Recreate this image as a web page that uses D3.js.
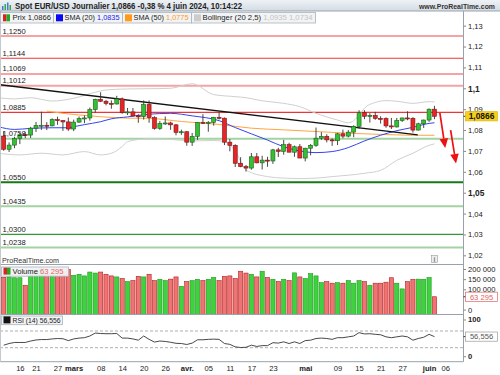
<!DOCTYPE html>
<html>
<head>
<meta charset="utf-8">
<script src="https://cdn.jsdelivr.net/npm/d3@7/dist/d3.min.js"></script>
<style>
html,body{margin:0;padding:0;background:#fff;}
svg{display:block;font-family:"Liberation Sans",Arial,sans-serif;}
</style>
</head>
<body>
<svg id="chart" width="500" height="375"></svg>
<script>
// ================= DATA =================
const dates = ["02-13","02-14","02-15","02-16","02-19","02-20","02-21","02-22","02-23","02-26","02-27","02-28","02-29",
"03-01","03-04","03-05","03-06","03-07","03-08","03-11","03-12","03-13","03-14","03-15","03-18","03-19","03-20","03-21","03-22","03-25","03-26","03-27","03-28","03-29",
"04-01","04-02","04-03","04-04","04-05","04-08","04-09","04-10","04-11","04-12","04-15","04-16","04-17","04-18","04-19","04-22","04-23","04-24","04-25","04-26","04-29","04-30",
"05-01","05-02","05-03","05-06","05-07","05-08","05-09","05-10","05-13","05-14","05-15","05-16","05-17","05-20","05-21","05-22","05-23","05-24","05-27","05-28","05-29","05-30","05-31",
"06-03","06-04"];

const open = [1.0771,1.0708,1.0728,1.0760,1.0778,1.0776,1.0809,1.0821,1.0823,1.0820,1.0850,1.0845,1.0839,
1.0805,1.0838,1.0855,1.0858,1.0898,1.0947,1.0938,1.0928,1.0925,1.0949,1.0883,1.0887,1.0868,1.0864,1.0922,1.0860,1.0808,1.0830,1.0834,1.0825,1.0789,
1.0792,1.0742,1.0770,1.0837,1.0835,1.0837,1.0861,1.0857,1.0742,1.0727,1.0641,1.0625,1.0618,1.0672,1.0643,1.0656,1.0652,1.0705,1.0698,1.0730,1.0694,1.0720,
1.0666,1.0713,1.0727,1.0761,1.0770,1.0753,1.0749,1.0782,1.0771,1.0790,1.0818,1.0883,1.0866,1.0870,1.0856,1.0855,1.0820,1.0815,1.0846,1.0858,1.0856,1.0800,1.0830,
1.0848,1.0900];

const close = [1.0708,1.0728,1.0760,1.0777,1.0776,1.0809,1.0821,1.0823,1.0820,1.0850,1.0845,1.0839,1.0805,
1.0838,1.0855,1.0858,1.0898,1.0947,1.0938,1.0928,1.0925,1.0949,1.0883,1.0887,1.0868,1.0864,1.0922,1.0860,1.0808,1.0832,1.0834,1.0825,1.0789,1.0792,
1.0742,1.0770,1.0837,1.0835,1.0837,1.0861,1.0857,1.0742,1.0727,1.0641,1.0625,1.0618,1.0672,1.0643,1.0656,1.0652,1.0705,1.0698,1.0730,1.0694,1.0720,1.0666,
1.0713,1.0727,1.0761,1.0770,1.0753,1.0749,1.0782,1.0771,1.0790,1.0818,1.0883,1.0866,1.0870,1.0856,1.0855,1.0820,1.0815,1.0846,1.0858,1.0856,1.0800,1.0830,1.0848,
1.0900,1.0866];

const high = [1.0794,1.0741,1.0768,1.0787,1.0790,1.0815,1.0839,1.0888,1.0838,1.0856,1.0864,1.0848,1.0860,
1.0850,1.0865,1.0870,1.0908,1.0950,1.0981,1.0944,1.0942,1.0964,1.0956,1.0906,1.0906,1.0876,1.0942,1.0942,1.0866,1.0843,1.0865,1.0840,1.0829,1.0802,
1.0795,1.0786,1.0837,1.0876,1.0843,1.0863,1.0885,1.0860,1.0757,1.0732,1.0670,1.0633,1.0690,1.0690,1.0677,1.0672,1.0710,1.0715,1.0753,1.0739,1.0726,1.0733,
1.0715,1.0733,1.0812,1.0790,1.0780,1.0760,1.0786,1.0802,1.0800,1.0823,1.0895,1.0895,1.0881,1.0887,1.0866,1.0861,1.0858,1.0858,1.0859,1.0890,1.0862,1.0835,1.0850,
1.0903,1.0916];

const low = [1.0701,1.0695,1.0713,1.0733,1.0761,1.0762,1.0791,1.0801,1.0800,1.0818,1.0825,1.0796,1.0796,
1.0795,1.0835,1.0833,1.0845,1.0884,1.0934,1.0918,1.0902,1.0922,1.0878,1.0872,1.0864,1.0835,1.0850,1.0835,1.0802,1.0801,1.0825,1.0801,1.0775,1.0777,
1.0725,1.0724,1.0753,1.0830,1.0792,1.0821,1.0851,1.0728,1.0698,1.0623,1.0622,1.0601,1.0610,1.0641,1.0611,1.0624,1.0638,1.0671,1.0682,1.0694,1.0672,1.0666,
1.0650,1.0679,1.0720,1.0753,1.0741,1.0724,1.0728,1.0761,1.0765,1.0766,1.0806,1.0852,1.0836,1.0849,1.0831,1.0811,1.0805,1.0812,1.0839,1.0847,1.0788,1.0798,1.0810,
1.0839,1.0852];

const volume = [158000,161000,157000,157000,120000,185000,190000,205000,175000,180000,178000,186000,197000,
169000,174000,166000,185000,180000,185000,174000,166000,161000,153000,138000,143000,164000,161000,174000,143000,149000,143000,150000,161000,115000,
138000,143000,149000,143000,149000,158000,143000,164000,166000,153000,189000,180000,174000,161000,189000,158000,149000,138000,149000,143000,181000,161000,
153000,177000,166000,133000,138000,130000,133000,130000,143000,130000,143000,138000,120000,130000,130000,135000,157000,130000,102000,138000,149000,150000,149000,
158000,63295];

const rsi = [36,40,42.5,42.5,42.5,46,48.5,49.5,49.5,51,52,51.5,47,51,53,54,58,65,64,63.5,
63.5,64,53,53,51,48,58,50,43.5,46,45,43,40.5,40,37.7,41,49,49,50,50.5,
50,40,38,32,30.5,31,36,33,35,35,42,41,44,40,44,40,47,48,52,53,
52,50,54,54,56,58,66,63,63.5,62,61,56,54,56,58,56,48,52,55,62,56.5];

// indicator lines: [candle index, value]
const sma20 = [[-1,1.0816],[2,1.0803],[5,1.0808],[9,1.0811],[12,1.0811],[13,1.0816],[15,1.0826],[18,1.0840],[20,1.0854],[23,1.0863],[27,1.0876],[31,1.0880],[35,1.0868],[40,1.0845],[43,1.0812],[46,1.0782],[49,1.0752],[52,1.0720],[55,1.0700],[58,1.0692],[61,1.0697],[64,1.0716],[67,1.0748],[73,1.0797],[76,1.0813],[79,1.0832],[80,1.0835]];
const sma50 = [[8,1.0891],[11,1.0880],[15,1.0870],[18,1.0864],[23,1.0857],[27,1.0856],[33,1.0841],[40,1.0827],[46,1.0809],[52,1.0801],[58,1.0793],[64,1.0785],[73,1.0777],[76,1.0775],[80,1.0775]];
const bollUp = [[-1,1.0955],[2,1.0949],[5,1.0955],[9,1.0939],[13,1.0952],[17,1.0981],[19,1.0992],[23,1.0997],[27,1.0998],[31,1.1000],[35,1.1022],[39,1.0970],[43,1.0960],[45,1.0955],[48,1.0940],[52,1.0928],[55,1.0912],[58,1.0880],[62,1.0848],[64,1.0835],[65,1.0845],[66,1.0872],[67,1.0905],[69,1.0932],[71,1.0941],[73,1.0938],[76,1.0928],[79,1.0936],[80,1.0935]];
const bollDn = [[-1,1.0689],[3,1.0681],[7,1.0689],[11,1.0681],[15,1.0697],[18,1.0681],[20,1.0689],[22,1.0721],[23,1.0745],[27,1.0758],[31,1.0755],[35,1.0748],[39,1.0750],[41,1.0745],[43,1.0700],[45,1.0609],[49,1.0577],[52,1.0570],[55,1.0568],[58,1.0570],[61,1.0577],[67,1.0593],[70,1.0607],[73,1.0655],[76,1.0689],[79,1.0727],[80,1.0734]];

const levels = [1.1250,1.1144,1.1069,1.1012,1.0885,1.0758,1.0550,1.0435,1.0300,1.0238];
const trendIdx = [-0.7, 76.9];
const trendVal = [1.1017, 1.0777];
const arrowFromIdx = [81, 83];
const arrowFromVal = [1.0882, 1.0800];
const arrowToIdx = [82, 84];
const arrowToVal = [1.0714, 1.0640];

const priceTicks = [1.02,1.03,1.04,1.05,1.06,1.07,1.08,1.09,1.10,1.11,1.12,1.13];
const volTicks = [0,100000,150000,200000];
const rsiTicks = [0,100];
const rsiLevels = [30,70];
const xTickDates = ["02-16","02-21","02-27","03-01","03-08","03-14","03-20","03-26","04-01","04-05","04-11","04-17","04-23","05-01","05-09","05-15","05-21","05-27","06-03","06-06"];
const xTickLabels = ["16","21","27","mars","08","14","20","26","avr.","05","11","17","23","mai","09","15","21","27","juin","06"];
const monthLabels = ["mars","avr.","mai","juin"];

const titleText = "Spot EUR/USD Journalier 1,0866 -0,38 % 4 juin 2024, 10:14:22";
const siteText = "www.ProRealTime.com";
const lastPrice = 1.0866, lastSma20 = 1.0835, lastSma50 = 1.0775, lastBollUp = 1.0935, lastBollDn = 1.0734, lastVol = 63295, lastRsi = 56.556;

// ================= HELPERS =================
function idxOf(md){
  const k = dates.indexOf(md);
  if (k >= 0) return k;
  const last = new Date("2024-" + dates[dates.length-1] + "T12:00:00");
  const target = new Date("2024-" + md + "T12:00:00");
  let n = dates.length - 1, d = new Date(last);
  while (d < target){ d.setDate(d.getDate()+1); const w = d.getDay(); if (w!==0 && w!==6) n++; }
  return n;
}
const fr = s => s.replace(".", ",");
const fmtP = d => fr(d3.format(".2~f")(d));
const fmtL = d => fr(d3.format(".4f")(d));
const fmtV = d => d3.format(",")(d).replace(/,/g, " ");

// ================= SCALES =================
const AXX = 463.5;
const x  = d3.scaleLinear().domain([-0.687, 85.3]).range([0, 463]);
const yP = d3.scaleLinear().domain([1.05, 1.10]).range([192.7, 88.3]);
const yV = d3.scaleLinear().domain([0, 200000]).range([309.6, 269]);
const yR = d3.scaleLinear().domain([30, 70]).range([347.7, 331]);
const P_TOP = 11, P_BOT = 264.5, V_BOT = 314.5, R_BOT = 361.7;

const svg = d3.select("#chart");
const defs = svg.append("defs");
function clip(id, y0, y1){ defs.append("clipPath").attr("id", id).append("rect").attr("x",0).attr("y",y0).attr("width",463).attr("height",y1-y0); }
clip("cp", P_TOP, P_BOT); clip("cv", P_BOT, V_BOT); clip("cr", V_BOT, R_BOT);
const hg = defs.append("linearGradient").attr("id","hg").attr("x1",0).attr("y1",0).attr("x2",0).attr("y2",1);
hg.append("stop").attr("offset","0").attr("stop-color","#eef2f6");
hg.append("stop").attr("offset","1").attr("stop-color","#d3dbe3");

svg.append("rect").attr("width",500).attr("height",375).attr("fill","#fff");

// ================= PRICE PANEL =================
const gp = svg.append("g").attr("clip-path","url(#cp)");

const levelColor = ["#f5a3a3","#ee3535","#f5a3a3","#f5a3a3","#ee3535","#a3d3a3","#157a15","#a3d3a3","#329a32","#a3d3a3"];
const levelWidth = [2,1.2,2,2,1.2,2,2.2,2,1.2,2];
levels.forEach((v,k)=>{
  gp.append("line").attr("x1",0).attr("x2",463).attr("y1",yP(v)).attr("y2",yP(v))
    .attr("stroke",levelColor[k]).attr("stroke-width",levelWidth[k]);
});

const lineGen = d3.line().x(d=>x(d[0])).y(d=>yP(d[1])).curve(d3.curveMonotoneX);
gp.append("path").attr("d",lineGen(bollUp)).attr("fill","none").attr("stroke","#cfcfcf").attr("stroke-width",1);
gp.append("path").attr("d",lineGen(bollDn)).attr("fill","none").attr("stroke","#cfcfcf").attr("stroke-width",1);
gp.append("path").attr("d",lineGen(sma50)).attr("fill","none").attr("stroke","#ffa640").attr("stroke-width",1);
gp.append("path").attr("d",lineGen(sma20)).attr("fill","none").attr("stroke","#3344ee").attr("stroke-width",1);

gp.append("line").attr("x1",x(trendIdx[0])).attr("y1",yP(trendVal[0])).attr("x2",x(trendIdx[1])).attr("y2",yP(trendVal[1]))
  .attr("stroke","#111").attr("stroke-width",1.4);

const UP = "#33c033", DN = "#e52626";
const candles = gp.append("g");
dates.forEach((d,i)=>{
  const cx = x(i), up = close[i] >= open[i];
  candles.append("line").attr("x1",cx).attr("x2",cx).attr("y1",yP(high[i])).attr("y2",yP(low[i]))
    .attr("stroke","#333").attr("stroke-width",0.9);
  const y0 = yP(Math.max(open[i],close[i])), y1 = yP(Math.min(open[i],close[i]));
  candles.append("rect").attr("x",cx-2).attr("y",y0).attr("width",4).attr("height",Math.max(1,y1-y0))
    .attr("fill", up?UP:DN).attr("stroke", up?"#1d5e1d":"#7a1414").attr("stroke-width",0.6);
});

levels.forEach(v=>{
  svg.append("text").attr("x",2.5).attr("y",yP(v)-2.6).attr("font-size",7.6).attr("fill","#1a1a1a").text(fmtL(v));
});

svg.append("text").attr("x",2).attr("y",262.5).attr("font-size",7.8).attr("fill","#333").attr("textLength",57).attr("lengthAdjust","spacingAndGlyphs").text("ProRealTime.com");
svg.append("rect").attr("x",431.5).attr("y",255.5).attr("width",6).attr("height",7).attr("fill","#eee").attr("stroke","#999").attr("stroke-width",0.6);
svg.append("text").attr("x",434.5).attr("y",261.5).attr("text-anchor","middle").attr("font-size",6.5).attr("font-weight","bold").attr("fill","#777").text("i");

// ================= VOLUME PANEL =================
const gv = svg.append("g").attr("clip-path","url(#cv)");
dates.forEach((d,i)=>{
  const up = close[i] >= open[i];
  gv.append("rect").attr("x",x(i)-2.1).attr("y",yV(volume[i])).attr("width",4.2).attr("height",V_BOT - yV(volume[i]))
    .attr("fill", up?"#3fd23f":"#ee7474").attr("stroke", up?"#1f9a1f":"#b42020").attr("stroke-width",0.6);
});

// ================= RSI PANEL =================
const gr = svg.append("g").attr("clip-path","url(#cr)");
rsiLevels.forEach(v=>{
  gr.append("line").attr("x1",0).attr("x2",463).attr("y1",yR(v)).attr("y2",yR(v))
    .attr("stroke","#9a9a9a").attr("stroke-width",0.8).attr("stroke-dasharray","3,2");
});
gr.append("path").attr("d", d3.line().x((d,i)=>x(i)).y(d=>yR(d))(rsi))
  .attr("fill","none").attr("stroke","#333").attr("stroke-width",0.9);

// ================= FRAMES =================
[P_BOT, V_BOT, R_BOT].forEach(yy=>{
  svg.append("line").attr("x1",0).attr("x2",463.5).attr("y1",yy).attr("y2",yy).attr("stroke","#98a2ad").attr("stroke-width",1);
});
svg.append("line").attr("x1",AXX).attr("x2",AXX).attr("y1",P_TOP).attr("y2",R_BOT).attr("stroke","#98a2ad").attr("stroke-width",1);
svg.append("line").attr("x1",0.5).attr("x2",0.5).attr("y1",P_TOP).attr("y2",R_BOT).attr("stroke","#c3c9cf").attr("stroke-width",1);

// ================= AXES =================
function styleAxis(g){
  g.select(".domain").remove();
  g.selectAll(".tick line").attr("stroke","#888");
  g.selectAll("text").attr("font-family","'Liberation Sans',Arial,sans-serif").attr("fill","#222");
}
const isMajor = d => Math.abs(d-1.10)<1e-9 || Math.abs(d-1.05)<1e-9;
const ap = svg.append("g").attr("transform",`translate(${AXX},0)`)
  .call(d3.axisRight(yP).tickValues(priceTicks).tickFormat(fmtP).tickSize(2.5).tickPadding(2));
styleAxis(ap);
ap.selectAll("text").attr("font-weight",d=> isMajor(d) ? "bold":"normal").attr("font-size",d=> isMajor(d) ? 8.4:7.6);

const av = svg.append("g").attr("transform",`translate(${AXX},0)`)
  .call(d3.axisRight(yV).tickValues(volTicks).tickFormat(fmtV).tickSize(2.5).tickPadding(2));
styleAxis(av); av.selectAll("text").attr("font-size",7.6);

const ar = svg.append("g").attr("transform",`translate(${AXX},0)`)
  .call(d3.axisRight(yR).tickValues(rsiTicks).tickFormat(d3.format("d")).tickSize(2.5).tickPadding(2));
styleAxis(ar); ar.selectAll("text").attr("font-size",7.6).attr("font-weight","bold");
ar.selectAll(".tick").filter(d=>d===0).attr("transform",`translate(0,${yR(0)-3.5})`);
ar.selectAll(".tick").filter(d=>d===100).attr("transform",`translate(0,${yR(100)+1.5})`);

const ax = svg.append("g").attr("transform",`translate(0,${R_BOT})`)
  .call(d3.axisBottom(x).tickValues(xTickDates.map(idxOf)).tickFormat((d,k)=>xTickLabels[k]).tickSize(0).tickPadding(3.5));
styleAxis(ax);
ax.selectAll("text").attr("font-size",7.6)
  .attr("font-weight",(d,k)=> monthLabels.includes(xTickLabels[k]) ? "bold":"normal");

function valBox(yc, txt, fill, stroke, color, bold){
  svg.append("line").attr("x1",AXX).attr("x2",AXX+3).attr("y1",yc).attr("y2",yc).attr("stroke","#333");
  svg.append("rect").attr("x",465.5).attr("y",yc-4.6).attr("width",32).attr("height",9.2).attr("fill",fill).attr("stroke",stroke).attr("stroke-width",0.7);
  svg.append("text").attr("x",481.5).attr("y",yc+2.8).attr("text-anchor","middle").attr("font-size",bold?8.4:7.6)
    .attr("font-weight",bold?"bold":"normal").attr("fill",color).text(txt);
}
valBox(yP(lastPrice), fmtL(lastPrice), "#f6cf1c", "#e0b800", "#111", true);
valBox(yV(lastVol), fmtV(lastVol), "#fff", "#e06464", "#e06464", false);
valBox(yR(lastRsi), fr(d3.format(".3f")(lastRsi)), "#fff", "#9a9a9a", "#555", false);

// ================= ARROWS (annotations, on top) =================
const ga = svg.append("g").attr("class","arrows");
for (let k = 0; k < arrowFromIdx.length; k++){
  const xa = x(arrowFromIdx[k]), ya = yP(arrowFromVal[k]), xb = x(arrowToIdx[k]), yb = yP(arrowToVal[k]);
  const ang = Math.atan2(yb-ya, xb-xa), L = 9.5, Wd = 4.3;
  const bx = xb - L*Math.cos(ang), by = yb - L*Math.sin(ang);
  const nx = -Math.sin(ang), ny = Math.cos(ang);
  ga.append("line").attr("x1",xa).attr("y1",ya).attr("x2",bx).attr("y2",by)
    .attr("stroke","#ee1111").attr("stroke-width",1.7);
  ga.append("path").attr("d",`M${xb},${yb}L${bx+nx*Wd},${by+ny*Wd}L${bx-nx*Wd},${by-ny*Wd}Z`).attr("fill","#ee1111");
}

// ================= HEADER =================
svg.append("rect").attr("x",0).attr("y",0).attr("width",500).attr("height",11).attr("fill","url(#hg)");
svg.append("line").attr("x1",0).attr("x2",500).attr("y1",11).attr("y2",11).attr("stroke","#9aa4ae");
[[2,5,1.5,"#3a7fd0"],[4.5,3,1.5,"#36a84a"],[7,1.5,1.5,"#3a7fd0"],[9.5,4,1.5,"#36a84a"]].forEach(b=>{
  svg.append("rect").attr("x",b[0]).attr("y",b[1]+1).attr("width",b[2]).attr("height",9-b[1]).attr("fill",b[3]);
});
svg.append("text").attr("x",15).attr("y",8.8).attr("font-size",8.6).attr("font-weight","bold").attr("fill","#222")
  .attr("textLength",227).attr("lengthAdjust","spacingAndGlyphs").text(titleText);
svg.append("text").attr("x",419).attr("y",8.6).attr("font-size",7.4).attr("font-weight","bold").attr("fill","#333")
  .attr("textLength",76).attr("lengthAdjust","spacingAndGlyphs").text(siteText);

// ================= LEGENDS =================
function legendBox(x0, x1, y0, h){
  svg.append("rect").attr("x",x0+0.5).attr("y",y0+0.5).attr("width",x1-x0).attr("height",h)
    .attr("fill","#f1f2f3").attr("fill-opacity",0.95).attr("stroke","#aab3bc").attr("stroke-width",0.8);
}
function split(xx, yy){
  svg.append("rect").attr("x",xx).attr("y",yy).attr("width",3.5).attr("height",7).attr("fill","#dd2222");
  svg.append("rect").attr("x",xx+3.5).attr("y",yy).attr("width",3.5).attr("height",7).attr("fill","#22aa22");
}
function sq(xx, yy, c){ svg.append("rect").attr("x",xx).attr("y",yy).attr("width",7).attr("height",7).attr("fill",c); }
function legText(xx, yy, len, parts){
  const t = svg.append("text").attr("x",xx).attr("y",yy).attr("font-size",7.8).attr("textLength",len).attr("lengthAdjust","spacingAndGlyphs");
  parts.forEach(p=> t.append("tspan").attr("fill",p[1]).text(p[0]));
}
const LY = 12;
legendBox(0,53,LY,10.5); legendBox(53,122,LY,10.5); legendBox(122,191,LY,10.5); legendBox(191,315,LY,10.5);
split(3, LY+2.3); legText(12.5, LY+8.3, 38.5, [["Prix ","#222"],[fmtL(lastPrice),"#222"]]);
sq(56, LY+2.3, "#0a0aee"); legText(64.5, LY+8.3, 55, [["SMA (20) ","#222"],[fmtL(lastSma20),"#2222ee"]]);
sq(125, LY+2.3, "#ff9a1a"); legText(133.5, LY+8.3, 55, [["SMA (50) ","#222"],[fmtL(lastSma50),"#ff9a1a"]]);
sq(194, LY+2.3, "#cccccc"); legText(202.5, LY+8.3, 110, [["Bollinger (20 2,5) ","#222"],[fmtL(lastBollUp)+" "+fmtL(lastBollDn),"#c4c4c4"]]);

legendBox(1,68,266.5,9.2);
split(3.5, 267.6); legText(12.5, 274, 51, [["Volume ","#222"],[fmtV(lastVol),"#e86464"]]);
legendBox(1,62,315.5,8.7);
sq(3.5, 316.4, "#111"); legText(12.5, 322.6, 48, [["RSI (14) ","#222"],[fr(d3.format(".3f")(lastRsi)),"#222"]]);
</script>
</body>
</html>
